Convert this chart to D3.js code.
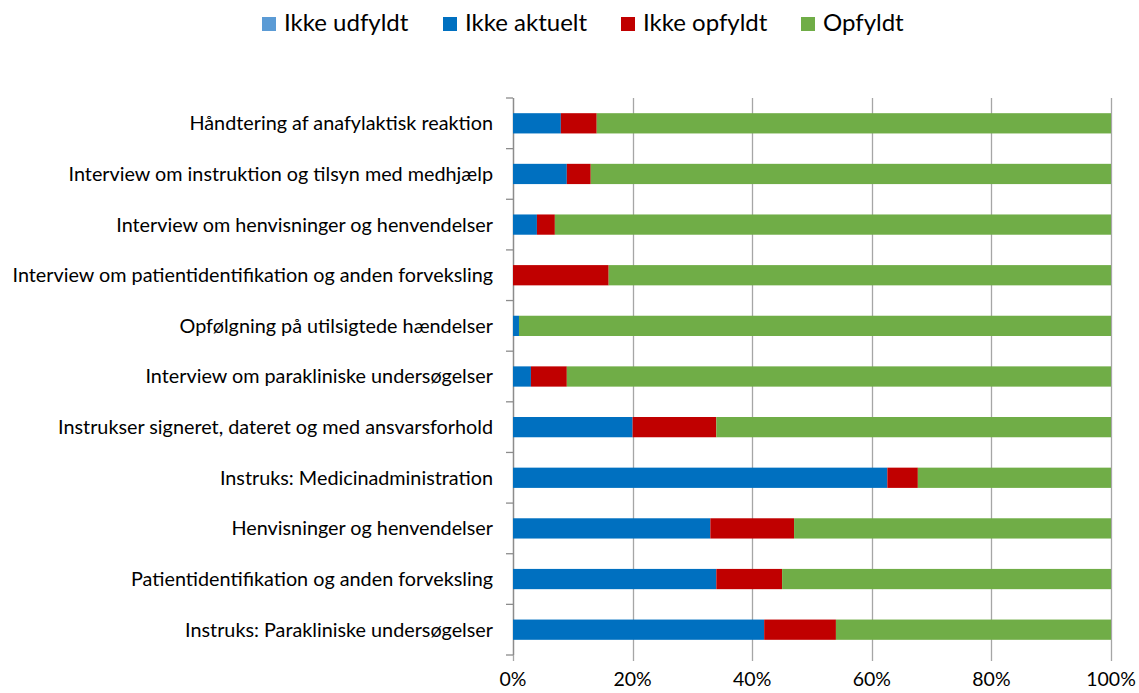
<!DOCTYPE html>
<html>
<head>
<meta charset="utf-8">
<script src="https://cdn.jsdelivr.net/npm/d3@7"></script>
<style>
  body { margin: 0; background: #fff; }
  svg { display: block; font-family: Lato, "Open Sans", sans-serif; }
</style>
</head>
<body>
<div id="chart"></div>
<script>
const WIDTH = 1139, HEIGHT = 693;

// data
const categories = [
  "Håndtering af anafylaktisk reaktion",
  "Interview om instruktion og tilsyn med medhjælp",
  "Interview om henvisninger og henvendelser",
  "Interview om patientidentifikation og anden forveksling",
  "Opfølgning på utilsigtede hændelser",
  "Interview om parakliniske undersøgelser",
  "Instrukser signeret, dateret og med ansvarsforhold",
  "Instruks: Medicinadministration",
  "Henvisninger og henvendelser",
  "Patientidentifikation og anden forveksling",
  "Instruks: Parakliniske undersøgelser"
];
const seriesNames = ["Ikke udfyldt", "Ikke aktuelt", "Ikke opfyldt", "Opfyldt"];
const ikkeUdfyldt = [0, 0, 0, 0, 0, 0, 0, 0, 0, 0, 0];
const ikkeAktuelt = [8, 9, 4, 0, 1, 3, 20, 62.6, 33, 34, 42];
const ikkeOpfyldt = [6, 4, 3, 16, 0, 6, 14, 5.1, 14, 11, 12];
const opfyldt     = [86, 87, 93, 84, 99, 91, 66, 32.3, 53, 55, 46];
const xTicks = [0, 0.2, 0.4, 0.6, 0.8, 1];

const COLORS = ["#5b9bd5", "#0070c0", "#c00000", "#70ad47"];

const margin = { top: 98, right: 28, bottom: 38, left: 513 };
const w = WIDTH - margin.left - margin.right;
const h = HEIGHT - margin.top - margin.bottom;

const rows = categories.map((c, i) => {
  const vals = [ikkeUdfyldt[i], ikkeAktuelt[i], ikkeOpfyldt[i], opfyldt[i]];
  const tot = d3.sum(vals);
  const r = { cat: c };
  seriesNames.forEach((s, k) => r[s] = vals[k] / tot);
  return r;
});
const stacked = d3.stack().keys(seriesNames)(rows);

const svg = d3.select("#chart").append("svg")
  .attr("width", WIDTH).attr("height", HEIGHT);

const g = svg.append("g").attr("transform", `translate(${margin.left},${margin.top})`);

const x = d3.scaleLinear().domain([0, 1]).range([0, w]);
const y = d3.scaleBand().domain(categories).range([0, h]).paddingInner(0.6).paddingOuter(0.3);

// gridlines + bottom ticks
g.append("g").selectAll("line").data(xTicks).join("line")
  .attr("x1", d => Math.round(x(d)) + 0.5).attr("x2", d => Math.round(x(d)) + 0.5)
  .attr("y1", 0).attr("y2", h + 6)
  .attr("stroke", "#a6a6a6").attr("stroke-width", 1.3);

// y axis line and band ticks
const bandEdges = d3.range(categories.length + 1).map(i => i * h / categories.length);
g.append("line").attr("x1", 0.5).attr("x2", 0.5).attr("y1", 0).attr("y2", h)
  .attr("stroke", "#8c8c8c").attr("stroke-width", 1.3);
g.append("g").selectAll("line").data(bandEdges).join("line")
  .attr("x1", -7).attr("x2", 0).attr("y1", d => d).attr("y2", d => d)
  .attr("stroke", "#8c8c8c").attr("stroke-width", 1.3);

// bars
g.append("g").selectAll("g").data(stacked).join("g")
  .attr("fill", (d, i) => COLORS[i])
  .selectAll("rect").data(d => d).join("rect")
  .attr("x", d => x(d[0]))
  .attr("width", d => x(d[1]) - x(d[0]))
  .attr("y", d => y(d.data.cat))
  .attr("height", y.bandwidth());

// category labels
g.append("g").selectAll("text").data(categories).join("text")
  .attr("x", -20).attr("y", d => y(d) + y.bandwidth() / 2)
  .attr("dy", "0.35em").attr("text-anchor", "end")
  .attr("font-size", 19.8).attr("fill", "#000")
  .text(d => d);

// x tick labels
g.append("g").selectAll("text").data(xTicks).join("text")
  .attr("x", d => x(d)).attr("y", h + 31)
  .attr("text-anchor", "middle").attr("font-size", 19.5).attr("fill", "#000")
  .text(d => d3.format(".0%")(d));

// legend
const legendX = [262, 443, 621, 801];
const leg = svg.append("g").selectAll("g").data(seriesNames).join("g")
  .attr("transform", (d, i) => `translate(${legendX[i]},0)`);
leg.append("rect").attr("x", 0).attr("y", 17).attr("width", 14).attr("height", 14)
  .attr("fill", (d, i) => COLORS[i]);
leg.append("text").attr("x", 22).attr("y", 31)
  .attr("font-size", 24).attr("fill", "#000").text(d => d);
</script>
</body>
</html>
